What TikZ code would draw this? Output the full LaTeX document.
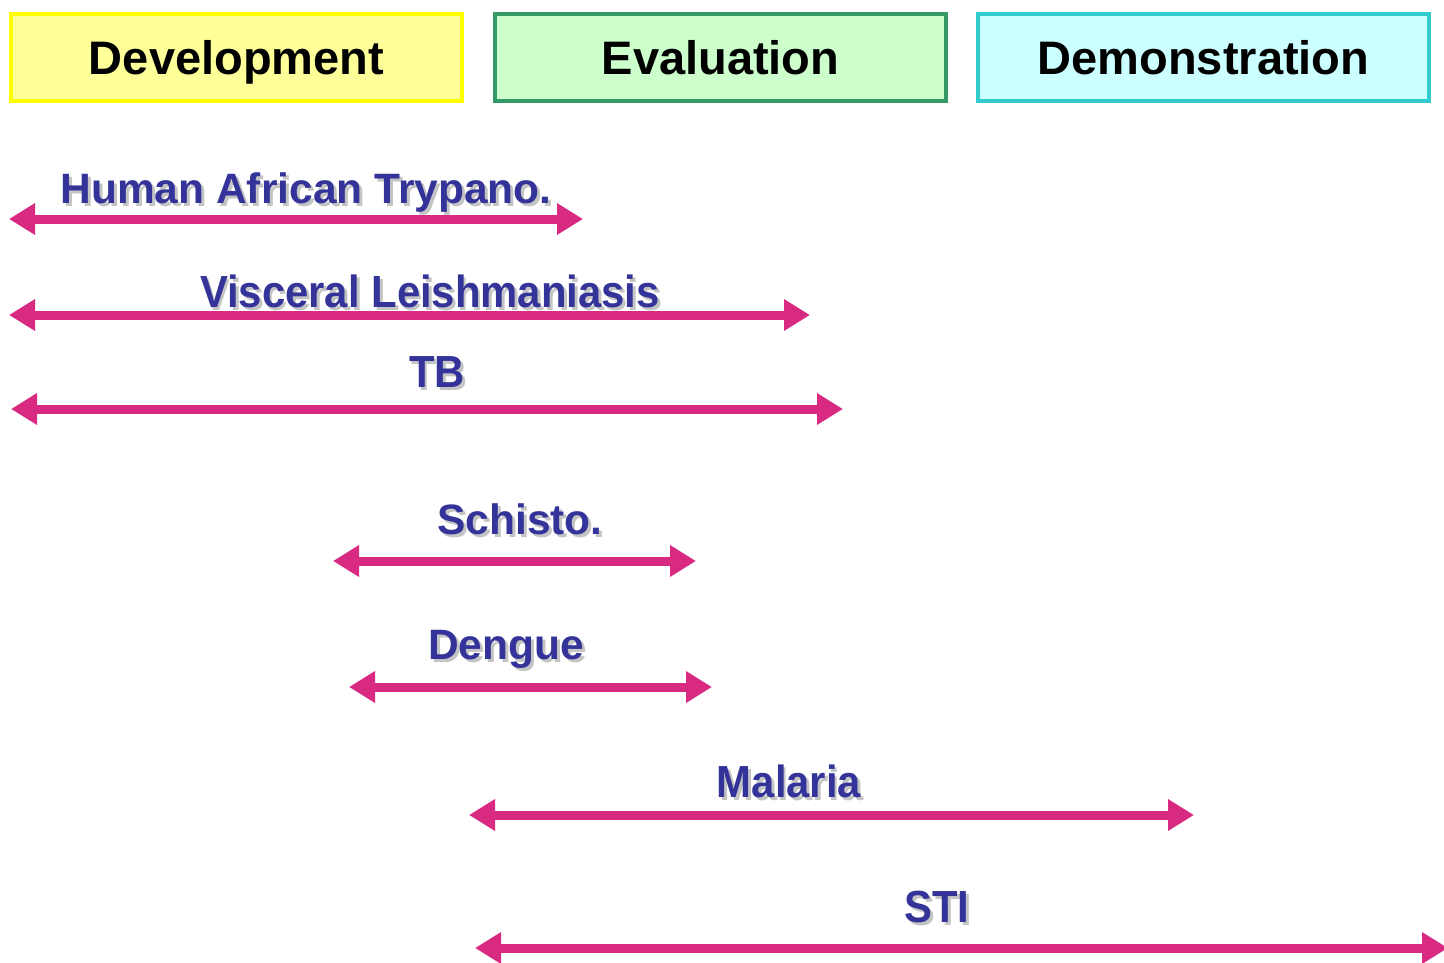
\documentclass[tikz,border=0pt]{standalone}
\usepackage{fontspec}
\setmainfont{Liberation Sans}
\usetikzlibrary{arrows.meta}
\usetikzlibrary{positioning}
\definecolor{devfill}{HTML}{FFFF99}
\definecolor{devline}{HTML}{FFFF00}
\definecolor{evalfill}{HTML}{CCFFCC}
\definecolor{evalline}{HTML}{339966}
\definecolor{demofill}{HTML}{CCFFFF}
\definecolor{demoline}{HTML}{33CCCC}
\definecolor{mblue}{HTML}{333399}
\definecolor{mpink}{HTML}{D92A81}
\definecolor{shadowgray}{HTML}{C4C4C4}
\newcommand{\shadowed}[1]{\makebox[0pt][l]{\kern3pt\raisebox{-3pt}{\textcolor{shadowgray}{#1}}}#1}
\newcommand{\narrowed}[1]{\scalebox{0.93}[1]{\shadowed{#1}}}
\tikzset{phase/.style = {draw, line width=4pt, minimum width=451pt, minimum height=87pt,
                         inner sep=0pt, text height=34pt, text depth=0pt,
                         font=\fontsize{47}{56}\selectfont\bfseries},
         disease/.style = {inner sep=0pt, anchor=base, text=mblue,
                           font=\fontsize{42.5}{50}\selectfont\bfseries},
         tall/.style = {font=\fontsize{45}{52}\selectfont\bfseries},
         span/.style = {mpink, line width=9pt,
                        {Triangle[length=26pt, width=30pt]}-{Triangle[length=26pt, width=30pt]}}}

\begin{document}
\begin{tikzpicture}[x=1pt, y=-1pt]
    \useasboundingbox (0, 0) rectangle (1444, 962);

    \node [phase, fill=devfill, draw=devline] (dev) at (236.5, 57.5) {Development};
    \node [phase, fill=evalfill, draw=evalline, right=29pt of dev] (eval) {Evaluation};
    \node [phase, fill=demofill, draw=demoline, right=28pt of eval] (demo) {Demonstration};

    \node [disease] (hat) at (306, 203) {\shadowed{Human African Trypano.}};
    \coordinate (hatL) at (9, 219);
    \coordinate (hatR) at (583, 219);
    \draw [span] (hatL) -- (hatR);

    \node [disease, tall] (vl) at (430, 307) {\narrowed{Visceral Leishmaniasis}};
    \coordinate (vlL) at (9, 315);
    \coordinate (vlR) at (810, 315);
    \draw [span] (vlL) -- (vlR);

    \node [disease, tall] (tb) at (437, 387) {\narrowed{TB}};
    \coordinate (tbL) at (11, 409);
    \coordinate (tbR) at (843, 409);
    \draw [span] (tbL) -- (tbR);

    \node [disease] (schisto) at (520, 534) {\shadowed{Schisto.}};
    \coordinate (schistoL) at (333, 561);
    \coordinate (schistoR) at (696, 561);
    \draw [span] (schistoL) -- (schistoR);

    \node [disease] (dengue) at (506, 659) {\shadowed{Dengue}};
    \coordinate (dengueL) at (349, 687);
    \coordinate (dengueR) at (712, 687);
    \draw [span] (dengueL) -- (dengueR);

    \node [disease, tall] (malaria) at (789, 797) {\narrowed{Malaria}};
    \coordinate (malariaL) at (469, 815);
    \coordinate (malariaR) at (1194, 815);
    \draw [span] (malariaL) -- (malariaR);

    \node [disease, tall] (sti) at (937, 922) {\narrowed{STI}};
    \coordinate (stiL) at (475, 948);
    \coordinate (stiR) at (1448, 948);
    \draw [span] (stiL) -- (stiR);
  \end{tikzpicture}
\end{document}
